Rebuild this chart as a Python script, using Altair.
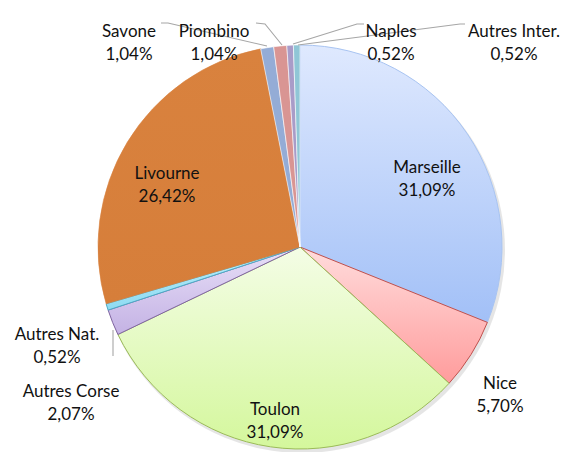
import altair as alt
import pandas as pd

# ---- data ----
labels = ["Marseille", "Nice", "Toulon", "Autres Corse", "Autres Nat.",
          "Livourne", "Savone", "Piombino", "Naples", "Autres Inter."]
values = [31.09, 5.70, 31.09, 2.07, 0.52, 26.42, 1.04, 1.04, 0.52, 0.52]

fill_top = ["#dfe9fe", "#ffdcdc", "#f4fde6", "#e8e0f8", "#bdeffc",
            "#d9823e", "#94acd6", "#d99593", "#a99cc8", "#90c6d6"]
fill_bottom = ["#a2c0f7", "#ff9c9c", "#d4f79c", "#c4b2e4", "#8edbf2",
               "#d67e3a", "#94acd6", "#d99593", "#a99cc8", "#90c6d6"]
stroke_col = ["#a8c4f2", "#c0504d", "#9bbb59", "#8064a2", "#4bacc6",
              "#d9823e", "#ffffff", "#ffffff", "#ffffff", "#ffffff"]

# label block centres (page pixels)
label_x = [427, 500, 275, 71, 57, 167, 129, 214, 391, 514]
label_y = [167.5, 384, 409.5, 391.5, 335, 173.5, 31.5, 31.5, 31.5, 31.5]

# leader lines (page pixels)
lead_id = ["Savone"] * 3 + ["Piombino"] * 3 + ["Naples"] * 3 + ["Autres Inter."] * 3 + ["Autres Nat."] * 2
lead_x = [161, 168, 267, 256, 265, 282, 364, 357, 293, 465, 460, 298, 113, 113]
lead_y = [23, 23, 46, 23, 24, 45, 24, 24, 44, 24, 24, 45, 330, 356]
lead_ord = [0, 1, 2, 0, 1, 2, 0, 1, 2, 0, 1, 2, 0, 1]

W, H = 555, 444
OFF = 8
CX, CY, R = 300 - OFF, 247 - OFF, 202
total = sum(values)

def fmt(v):
    return f"{v:.2f}".replace(".", ",") + "%"

df = pd.DataFrame({"label": labels, "value": values,
                   "order": list(range(len(labels))),
                   "text": [f"{l}\n{fmt(v)}" for l, v in zip(labels, values)],
                   "lx": label_x, "ly": label_y})

base = alt.Chart(df).transform_window(
    end="sum(value)", sort=[alt.SortField("order")], frame=[None, 0]
).transform_calculate(start="datum.end - datum.value")

theta_scale = alt.Scale(domain=[0, total], range=[0, 6.283185307179586])

shadow = alt.Chart(pd.DataFrame({"a": [0]})).mark_arc(
    radius=R + 1, theta=0, theta2=6.2832, fill="#000000", fillOpacity=0.10
).encode(x=alt.value(CX + 2), y=alt.value(CY + 3))

layers = [shadow]
for i, lab in enumerate(labels):
    grad = alt.LinearGradient(
        gradient="linear",
        stops=[alt.GradientStop(color=fill_top[i], offset=0),
               alt.GradientStop(color=fill_bottom[i], offset=1)],
        x1=0, x2=0, y1=0, y2=1)
    layer = base.transform_filter(alt.datum.label == lab).mark_arc(
        radius=R, fill=grad, stroke=stroke_col[i], strokeWidth=1 if i < 5 else 0.6
    ).encode(
        theta=alt.Theta("start:Q", scale=theta_scale, stack=None),
        theta2="end:Q",
        x=alt.value(CX), y=alt.value(CY),
    )
    layers.append(layer)

xs = alt.Scale(domain=[OFF, OFF + W], range=[0, W])
ys = alt.Scale(domain=[OFF, OFF + H], range=[0, H])

lead_df = pd.DataFrame({"id": lead_id, "x": lead_x, "y": lead_y, "o": lead_ord})
leaders = alt.Chart(lead_df).mark_line(color="#a6a6a6", strokeWidth=1.1).encode(
    x=alt.X("x:Q", scale=xs, axis=None),
    y=alt.Y("y:Q", scale=ys, axis=None),
    detail="id:N", order="o:Q")
layers.append(leaders)

text = alt.Chart(df).mark_text(
    font="Lato", fontSize=17, lineHeight=23, lineBreak="\n",
    align="center", baseline="middle", color="#111111"
).encode(
    x=alt.X("lx:Q", scale=xs, axis=None),
    y=alt.Y("ly:Q", scale=ys, axis=None),
    text="text:N")
layers.append(text)

chart = alt.layer(*layers).properties(
    width=W, height=H, padding=0, autosize="none"
).configure(background="white").configure_view(stroke=None)

chart.save("out.html", embed_options={"renderer": "svg", "actions": False})
